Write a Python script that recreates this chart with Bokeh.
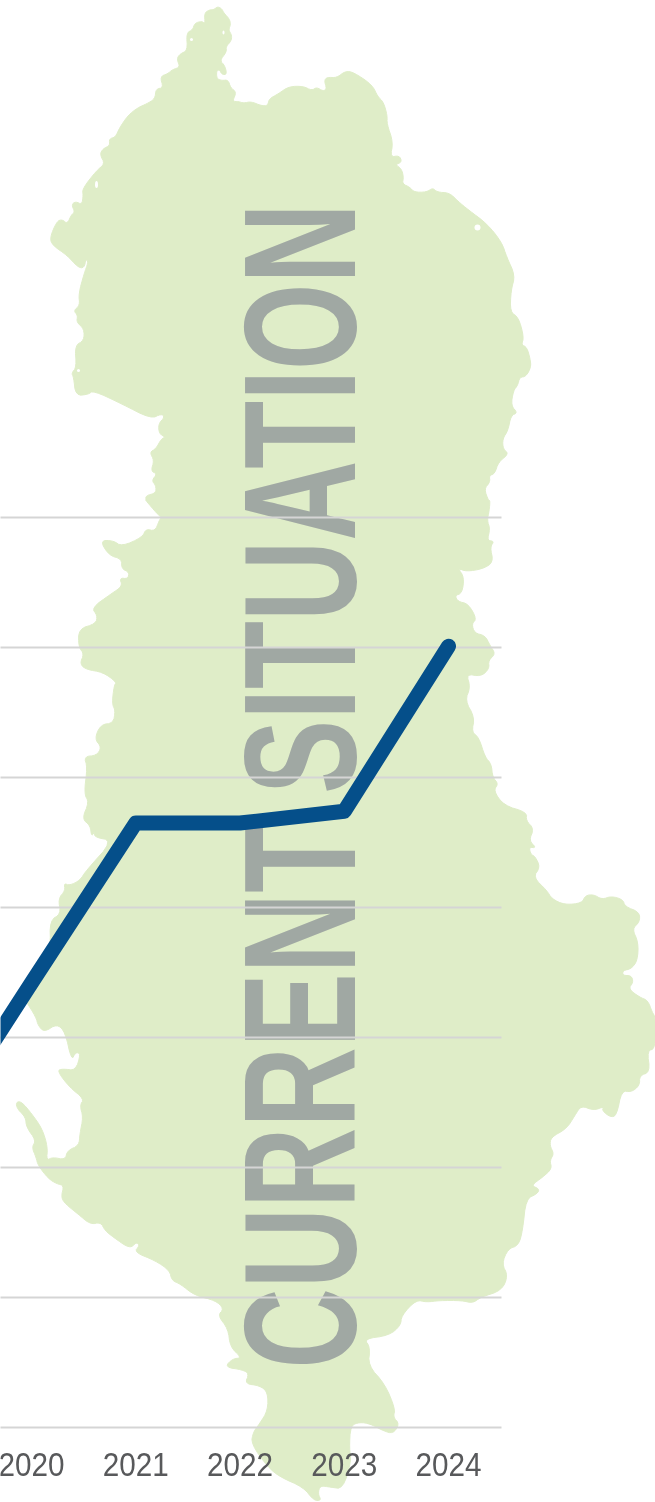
from bokeh.plotting import figure
from bokeh.models import Range1d, CustomJS
from bokeh.document import Document
from bokeh.core.properties import value
from bokeh.embed import file_html
from bokeh.resources import INLINE
import math

W, H = 655, 1502

years = [2019, 2020, 2021, 2022, 2023, 2024]
values = [21.8, 34.2, 46.5, 46.5, 47.4, 60.1]
tick_years = [2020, 2021, 2022, 2023, 2024]
grid_values = [0, 10, 20, 30, 40, 50, 60, 70]
title_text = "CURRENT SITUATION"

map_z1 = [(520,18),(530,25),(535,38),(548,55),(551,72),(546,88),(554,105),(552,122),(540,138),(541,155),(525,180),(537,195),(542,222),(530,222),(524,207),(517,212),(518,235),(530,240),(545,238),(551,262),(565,275),(555,303),(570,303),(582,308),(600,303),(625,316),(640,315),(643,295),(665,280),(690,258),(725,257),(745,270),(757,260),(772,272),(781,265),(775,240),(782,230),(805,232),(825,212),(845,215),(890,253),(903,288),(917,305),(926,345),(925,370),(940,425),(933,470),(955,465),(961,485),(945,492),(960,505),(965,530),(962,550),(980,560),(990,575),(1020,575),(1035,562),(1045,575),(1075,577),(1095,602),(1120,628),(1165,670),(1200,725),(1212,770),(1232,825),(1222,870),(1220,935),(1240,950),(1253,1010),(1247,1033),(1260,1040),(1268,1075),(1270,1100),(1258,1128),(1243,1130),(1238,1155),(1228,1170),(1222,1215),(1238,1237),(1222,1245),(1215,1290),(1202,1315),(1203,1345),(1217,1360),(1192,1385),(1183,1420),(1170,1425),(1172,1445),(1158,1465),(1168,1500)]
map_z2 = [(1172,0),(1170,30),(1165,60),(1172,85),(1165,120),(1182,122),(1172,140),(1180,185),(1155,205),(1115,213),(1095,203),(1110,230),(1105,278),(1088,285),(1095,303),(1120,310),(1140,355),(1128,370),(1135,398),(1160,405),(1172,435),(1185,460),(1168,480),(1170,505),(1150,528),(1115,520),(1125,560),(1112,600),(1135,650),(1128,695),(1145,710),(1160,770),(1175,790),(1178,830),(1192,850),(1180,870),(1205,915),(1260,935),(1258,960),(1277,985),(1265,1020),(1283,1042),(1265,1040),(1270,1062),(1280,1068),(1292,1100),(1275,1130),(1308,1170),(1320,1195),(1350,1213),(1392,1208),(1400,1185),(1420,1182),(1440,1197),(1462,1187),(1490,1197),(1495,1218),(1530,1235),(1530,1265),(1512,1285),(1527,1325),(1525,1380),(1510,1405),(1490,1410),(1490,1425),(1510,1425),(1515,1445),(1503,1465),(1530,1490)]
map_z3 = [(1550,0),(1560,35),(1568,50),(1568,145),(1548,150),(1555,215),(1530,225),(1530,255),(1510,275),(1487,270),(1475,345),(1460,350),(1440,330),(1445,318),(1420,330),(1390,315),(1375,345),(1355,385),(1318,410),(1315,435),(1325,460),(1315,480),(1320,505),(1298,530),(1270,555),(1290,565),(1285,580),(1258,595),(1250,690),(1240,735),(1215,745),(1200,790),(1215,825),(1200,870),(1150,890),(1130,908),(1105,900),(1050,900),(1020,905),(995,898),(960,945),(958,975),(930,1005),(870,1015),(885,1040),(880,1095),(920,1150),(945,1225),(940,1250),(955,1270),(940,1300),(915,1290),(885,1270),(860,1265),(838,1275),(835,1345),(840,1380),(820,1465),(790,1460),(765,1455),(760,1480),(768,1500),(750,1500),(725,1460),(670,1430),(640,1400),(600,1330),(605,1295),(620,1270),(640,1230),(640,1175),(620,1155),(585,1150),(595,1120),(580,1108),(537,1100),(555,1075),(578,1072),(550,1040),(545,985),(520,945),(535,925),(515,900),(465,885),(430,850),(410,840),(405,810),(370,780),(320,755),(333,735),(325,725),(310,745),(270,710),(250,690),(240,665),(215,672),(185,640),(155,610),(145,590),(152,555),(135,550),(115,535),(90,495),(85,470),(75,440),(85,420),(62,380),(60,350),(40,325),(37,305),(50,303),(75,340),(100,385),(113,440),(110,480),(125,470),(155,478),(160,450),(188,435),(190,400),(198,350),(190,315),(200,295),(165,260),(135,210),(150,205),(180,210),(192,160),(180,155),(170,180),(155,95),(135,70),(105,95),(90,75),(85,50),(60,0)]
map_z2b = [(60,1500),(95,1440),(120,1340),(118,1260),(145,1240),(138,1195),(155,1170),(152,1148),(165,1155),(190,1140),(205,1110),(270,1020),(222,1010),(228,985),(218,1010),(215,975),(195,955),(212,905),(200,880),(208,800),(200,768),(230,765),(242,740),(225,715),(240,672),(270,668),(275,630),(267,610),(272,555),(278,545),(245,515),(205,507),(190,490),(200,460),(187,440),(187,385),(228,370),(232,345),(218,322),(265,280),(292,257),(285,232),(305,235),(308,215),(290,205),(290,175),(260,165),(238,120),(270,120),(290,138),(340,110),(348,85),(370,92),(380,60),(385,50),(375,40),(348,0)]
map_z1b = [(348,1500),(348,1485),(372,1478),(372,1455),(362,1440),(375,1420),(360,1412),(368,1380),(357,1355),(372,1345),(385,1315),(395,1310),(380,1300),(378,1270),(393,1250),(385,1240),(360,1255),(290,1210),(222,1170),(210,1182),(180,1185),(175,1130),(170,1118),(182,1100),(178,1035),(200,1020),(200,985),(182,965),(185,945),(175,930),(190,915),(187,880),(200,820),(210,785),(205,775),(200,803),(185,800),(160,765),(125,735),(118,712),(135,662),(148,657),(160,670),(170,642),(178,635),(170,612),(180,603),(195,612),(198,585),(196,565),(230,510),(250,490),(238,462),(245,445),(262,435),(260,415),(275,410),(285,382),(305,345),(328,322),(350,310),(370,295),(372,265),(390,262),(382,228),(400,220),(412,207),(430,200),(422,175),(430,160),(448,150),(445,97),(460,88),(465,68),(482,62),(490,70),(488,38),(500,28),(510,28)]

SX, SY = 2.394, 3.0
parts = [(0, map_z1), (500, map_z2), (1000, map_z3), (500, map_z2b), (0, map_z1b)]
outline = [(zx / SX, off + zy / SY) for off, pts in parts for zx, zy in pts]

def chaikin(pts, n=2):
    for _ in range(n):
        out = []
        for i in range(len(pts)):
            a, b = pts[i], pts[(i + 1) % len(pts)]
            out.append((0.75 * a[0] + 0.25 * b[0], 0.75 * a[1] + 0.25 * b[1]))
            out.append((0.25 * a[0] + 0.75 * b[0], 0.25 * a[1] + 0.75 * b[1]))
        pts = out
    return pts

smooth = chaikin(outline)
map_x = [q[0] for q in smooth]
map_y = [q[1] for q in smooth]

lake_x = [477, 96, 78, 191, 223]
lake_y = [227, 184, 370, 39, 32]
lake_w = [6, 3, 3, 3, 2]
lake_h = [6, 7, 3, 3, 4]

yr_per_px = 1 / 104.25
x0 = 2020 - 31 * yr_per_px
v_per_px = 1 / 13.0
y_top = 1427 * v_per_px
y_bot = (1427 - H) * v_per_px

p = figure(width=W, height=H, output_backend="svg", toolbar_location=None,
           x_range=Range1d(x0, x0 + W * yr_per_px), y_range=Range1d(y_bot, y_top),
           min_border=0, outline_line_color=None)
p.axis.visible = False
p.grid.visible = False
p.styles = {"position": "fixed", "left": "0px", "top": "0px"}
p.extra_x_ranges = {"px": Range1d(0, W)}
p.extra_y_ranges = {"px": Range1d(H, 0)}

p.patch(map_x, map_y, x_range_name="px", y_range_name="px", fill_color="#dfedc8", line_color="#dfedc8", line_width=1, line_join="round")
p.ellipse(lake_x, lake_y, width=lake_w, height=lake_h, x_range_name="px", y_range_name="px", fill_color="white", line_color=None)
p.text([299], [1368], text=[title_text], x_range_name="px", y_range_name="px", angle=math.pi / 2,
       text_font=value("Liberation Sans"), text_font_style="bold", text_font_size="160px",
       text_color="#a0a8a3", text_align="left", text_baseline="alphabetic")
gx0 = x0 - 8 * yr_per_px
p.segment([gx0] * len(grid_values), grid_values, [x0 + 501 * yr_per_px] * len(grid_values), grid_values,
          line_color="#d5d5d5", line_width=2)
p.line(years, values, line_color="#054f8a", line_width=15, line_join="round", line_cap="round")
p.text(tick_years, [-2.85] * len(tick_years), text=[str(y) for y in tick_years],
       text_font=value("Liberation Sans"), text_font_size="33px", text_color="#58595b",
       text_align="center", text_baseline="alphabetic")

condense = CustomJS(args=dict(label=title_text, sx=0.695, tick_labels=[str(y) for y in tick_years], tx=0.9), code="""
function walk(root, out) {
  for (const el of root.querySelectorAll('*')) {
    if (el.tagName === 'text') out.push(el);
    if (el.shadowRoot) walk(el.shadowRoot, out);
  }
  return out;
}
function apply() {
  for (const t of walk(document, [])) {
    if (t.dataset.narrow) continue;
    if (t.textContent === label) {
      t.dataset.narrow = '1';
      t.setAttribute('transform', (t.getAttribute('transform') || '') + ' scale(' + sx + ',1)');
    } else if (tick_labels.includes(t.textContent)) {
      t.dataset.narrow = '1';
      const b = t.getBBox();
      const cx = b.x + b.width / 2;
      t.setAttribute('transform', (t.getAttribute('transform') || '') +
        ' translate(' + cx + ',0) scale(' + tx + ',1) translate(' + (-cx) + ',0)');
    }
  }
}
apply();
setInterval(apply, 50);
""")
doc = Document()
doc.add_root(p)
doc.js_on_event("document_ready", condense)

open("out.html", "w").write(file_html(doc, INLINE))
